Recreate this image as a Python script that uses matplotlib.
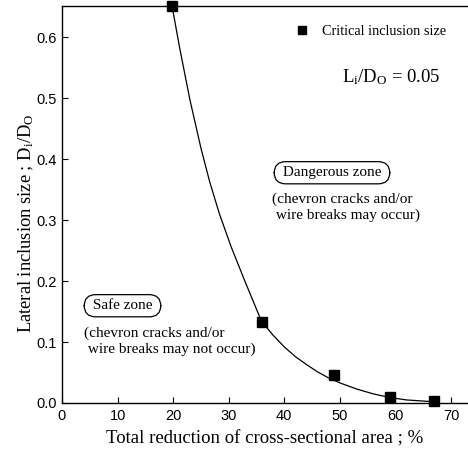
import numpy as np
import matplotlib.pyplot as plt
import matplotlib as mpl

mpl.rcParams['mathtext.fontset'] = 'custom'
mpl.rcParams['mathtext.rm'] = 'Liberation Serif'
mpl.rcParams['mathtext.it'] = 'Liberation Serif'

# critical inclusion size points
reduction = [19.8, 36, 49, 59, 67]
size = [0.651, 0.133, 0.046, 0.010, 0.003]

# fitted curve
curve_x = [19.8, 21.2, 23.0, 25.0, 26.6, 28.3, 30.4, 32.9, 35.9,
           38, 40, 42, 44, 46, 48, 50, 53, 56, 59, 62, 67]
curve_y = [0.651, 0.581, 0.498, 0.418, 0.362, 0.311, 0.257, 0.200, 0.134,
           0.111, 0.092, 0.076, 0.063, 0.051, 0.041, 0.033, 0.023, 0.015, 0.009, 0.005, 0.002]

xticks = [0, 10, 20, 30, 40, 50, 60, 70]
yticks = [0.0, 0.1, 0.2, 0.3, 0.4, 0.5, 0.6]

serif = 'Liberation Serif'
sans = 'Liberation Sans'

fig = plt.figure(figsize=(4.68, 4.5), dpi=100)
ax = fig.add_axes([62/468, 47/450, 1 - 62/468, 397/450])

ax.plot(curve_x, curve_y, color='black', linewidth=0.9, clip_on=False)
ax.plot(reduction, size, 's', color='black', markersize=6.6, clip_on=False,
        label='Critical inclusion size', zorder=5)

ax.set_xlim(0, 73.06)
ax.set_ylim(0, 0.651)
ax.set_xticks(xticks)
ax.set_yticks(yticks)
ax.set_yticklabels(['%.1f' % v for v in yticks])
ax.tick_params(direction='in', length=4, width=0.8, labelsize=10.5, pad=4)
for lab in ax.get_xticklabels() + ax.get_yticklabels():
    lab.set_fontfamily(sans)
ax.spines['right'].set_visible(False)
for s in ['left', 'bottom', 'top']:
    ax.spines[s].set_linewidth(1.0)

ax.set_xlabel('Total reduction of cross-sectional area ; %', family=serif, fontsize=13.5, labelpad=6)
fig.text(26/468, 1 - 223/450, r'Lateral inclusion size ; D$_\mathrm{i}$/D$_\mathrm{O}$',
         family=serif, fontsize=13.3, rotation=90, ha='center', va='center')

leg = ax.legend(loc='upper left', bbox_to_anchor=(0.524, 0.985), frameon=False,
                prop={'family': serif, 'size': 10.3}, handletextpad=0.4, markerscale=0.9)

ax.text(0.69, 0.82, r'L$_\mathrm{i}$/D$_\mathrm{O}$ = 0.05', transform=ax.transAxes,
        family=serif, fontsize=13.5, ha='left', va='center')

box = dict(boxstyle='round,pad=0.3,rounding_size=0.75', fc='white', ec='black', lw=0.9)
ax.text(0.665, 0.58, ' Dangerous zone ', transform=ax.transAxes, family=serif,
        fontsize=11, ha='center', va='center', bbox=box)
ax.text(0.517, 0.4924, '(chevron cracks and/or\n wire breaks may occur)',
        transform=ax.transAxes, family=serif, fontsize=11, ha='left', va='center',
        linespacing=1.25)

ax.text(0.149, 0.245, ' Safe zone ', transform=ax.transAxes, family=serif,
        fontsize=11, ha='center', va='center', bbox=box)
ax.text(0.054, 0.155, '(chevron cracks and/or\n wire breaks may not occur)',
        transform=ax.transAxes, family=serif, fontsize=11, ha='left', va='center',
        linespacing=1.3)

fig.savefig('out.png', dpi=100)
